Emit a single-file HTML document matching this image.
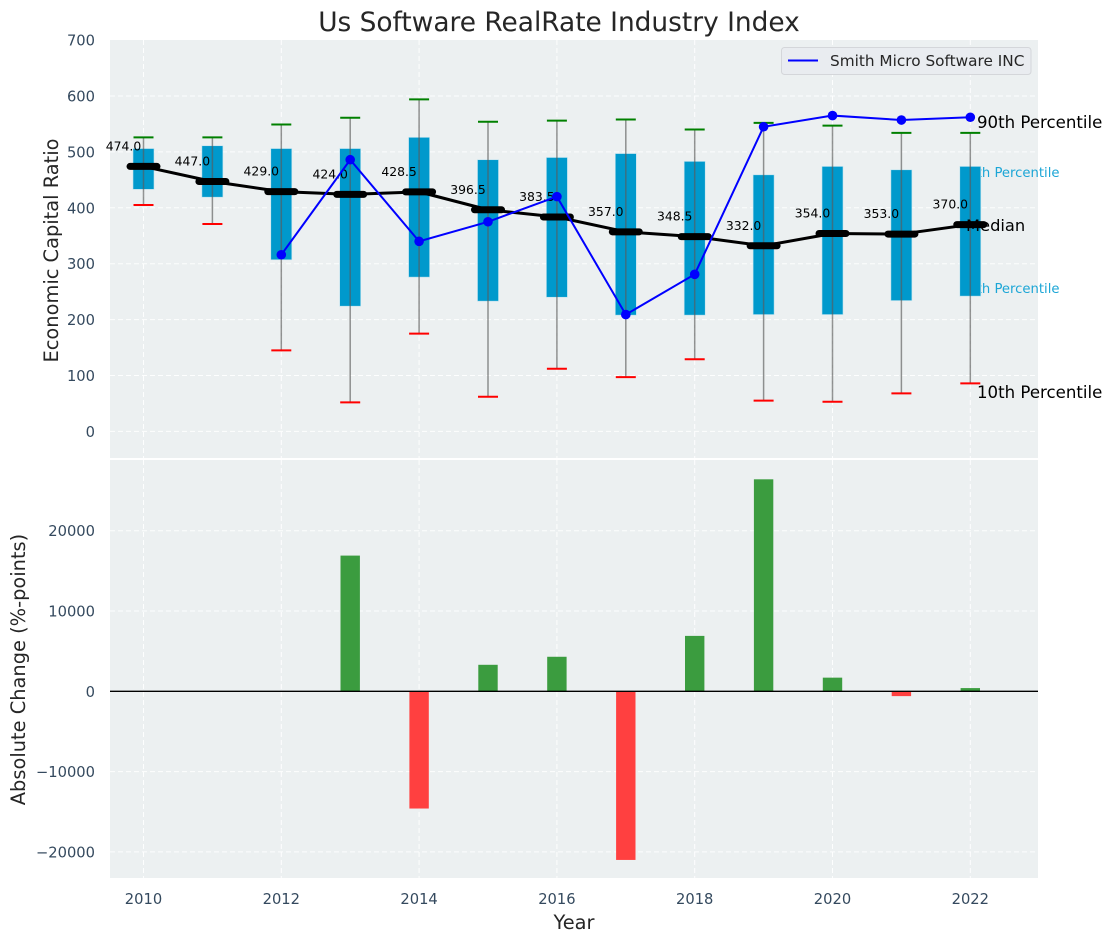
<!DOCTYPE html>
<html>
<head>
<meta charset="utf-8">
<title>Us Software RealRate Industry Index</title>
<style>
html,body{margin:0;padding:0;background:#fff;width:1112px;height:942px;overflow:hidden}
svg{display:block;font-family:"DejaVu Sans","Liberation Sans",sans-serif}
</style>
</head>
<body>
<svg id="chart" width="1112" height="942" viewBox="0 0 1112 942" xmlns="http://www.w3.org/2000/svg">
<rect x="110" y="40" width="928" height="418" fill="#ecf0f1"/>
<rect x="110" y="460" width="928" height="418" fill="#ecf0f1"/>
<g id="grid"></g>
<g id="ticks"></g>
<text x="559" y="31" font-size="26.4" fill="#262626" text-anchor="middle">Us Software RealRate Industry Index</text>
<text transform="translate(58,250.5) rotate(-90)" font-size="19.4" fill="#262626" text-anchor="middle">Economic Capital Ratio</text>
<text transform="translate(25,669.5) rotate(-90)" font-size="19.4" fill="#262626" text-anchor="middle">Absolute Change (%-points)</text>
<text x="574" y="929" font-size="19.4" fill="#262626" text-anchor="middle">Year</text>
<text x="1059.5" y="177" font-size="13.2" fill="#1ca6d6" text-anchor="end">75th Percentile</text>
<text x="1059.5" y="293" font-size="13.2" fill="#1ca6d6" text-anchor="end">25th Percentile</text>
<g id="marks"></g>
<text x="977" y="128" font-size="16.6" fill="#000">90th Percentile</text>
<text x="977" y="398" font-size="16.6" fill="#000">10th Percentile</text>
<text x="966" y="231" font-size="16.3" fill="#000">Median</text>
<g id="bars"></g>
<line x1="110" x2="1038" y1="691.3" y2="691.3" stroke="#000" stroke-width="1.4"/>
<g>
<rect x="781.5" y="47.5" width="249.5" height="27" rx="3" fill="#e9ecf0" stroke="#d4d6da" stroke-width="1"/>
<line x1="788" x2="818" y1="60.5" y2="60.5" stroke="#0000ff" stroke-width="2"/>
<text x="830" y="66" font-size="15.3" fill="#262626">Smith Micro Software INC</text>
</g>
</svg>
<script>
const years = [2010, 2011, 2012, 2013, 2014, 2015, 2016, 2017, 2018, 2019, 2020, 2021, 2022];
const p90 = [526, 526, 549, 561, 594, 554, 556, 558, 540, 552, 547, 534, 534];
const p75 = [506, 511, 506, 506, 526, 486, 490, 497, 483, 459, 474, 468, 474];
const medians = [474, 447, 429, 424, 428.5, 396.5, 383.5, 357, 348.5, 332, 354, 353, 370];
const p25 = [433, 419, 307, 224, 276, 233, 240, 208, 208, 209, 209, 234, 242];
const p10 = [405, 371, 145, 52, 175, 62, 112, 97, 129, 55, 53, 68, 86];
const company = [null, null, 316, 486, 340, 375, 420, 209, 281, 545, 565, 557, 562];
const changes = [null, null, null, 16900, -14600, 3300, 4300, -21000, 6900, 26400, 1700, -600, 400];
const xTickLabels = [2010, 2012, 2014, 2016, 2018, 2020, 2022];
const topTickLabels = [0, 100, 200, 300, 400, 500, 600, 700];
const bottomTickLabels = [-20000, -10000, 0, 10000, 20000];

const NS = 'http://www.w3.org/2000/svg';
function xScale(v) { return 143.5 + (v - 2010) * 68.9; }
function yTop(v) { return 431.4 - v * 0.559; }
function yBottom(v) { return 691.3 - v * 0.00803; }
function make(parent, tag, props) {
  const el = document.createElementNS(NS, tag);
  for (const k in props) el.setAttribute(k, props[k]);
  parent.appendChild(el);
  return el;
}
const grid = document.getElementById('grid');
const ticks = document.getElementById('ticks');
const marks = document.getElementById('marks');
const bars = document.getElementById('bars');
const dash = { stroke: '#ffffff', 'stroke-width': 1, 'stroke-dasharray': '5 3', 'stroke-opacity': 0.9 };

xTickLabels.forEach(function (t) {
  const x = xScale(t);
  [[40, 458], [460, 878]].forEach(function (r) {
    const g = make(grid, 'line', Object.assign({ x1: x, x2: x, y1: r[0], y2: r[1] }, dash));
    
    
  });
  const lab = make(ticks, 'text', { x: x, y: 904, 'font-size': 14.7, fill: '#34495e', 'text-anchor': 'middle' });
  
  
  lab.textContent = t;
});
topTickLabels.forEach(function (t) {
  const y = yTop(t);
  if (t < 700) {
    const g = make(grid, 'line', Object.assign({ x1: 110, x2: 1038, y1: y, y2: y }, dash));
    
    
  }
  const lab = make(ticks, 'text', { x: 95, y: y + 5.5, 'font-size': 14.7, fill: '#34495e', 'text-anchor': 'end' });
  
  
  lab.textContent = t;
});
bottomTickLabels.forEach(function (t) {
  const y = yBottom(t);
  const g = make(grid, 'line', Object.assign({ x1: 110, x2: 1038, y1: y, y2: y }, dash));
  
  
  const lab = make(ticks, 'text', { x: 95, y: y + 5.5, 'font-size': 14.7, fill: '#34495e', 'text-anchor': 'end' });
  
  
  lab.textContent = String(t).replace('-', '\u2212');
});

years.forEach(function (yr, i) {
  const x = xScale(yr);
  const top = yTop(p75[i]);
  const box = make(marks, 'rect', { x: x - 10.5, y: top, width: 21, height: yTop(p25[i]) - top, fill: '#0099cc', stroke: '#bfe3ef', 'stroke-width': 0.6 });
  
  
  const w = make(marks, 'line', { x1: x, x2: x, y1: yTop(p90[i]), y2: yTop(p10[i]), stroke: '#5a5a5a', 'stroke-opacity': 0.65, 'stroke-width': 1.5 });
  
  
  const c1 = make(marks, 'line', { x1: x - 10, x2: x + 10, y1: yTop(p90[i]), y2: yTop(p90[i]), stroke: '#008000', 'stroke-width': 2 });
  
  
  const c2 = make(marks, 'line', { x1: x - 10, x2: x + 10, y1: yTop(p10[i]), y2: yTop(p10[i]), stroke: '#ff0000', 'stroke-width': 2 });
  
  
});

const medianPath = make(marks, 'path', {
  d: medians.map(function (m, i) { return (i ? 'L' : 'M') + xScale(years[i]) + ' ' + yTop(m); }).join(' '),
  fill: 'none', stroke: '#000', 'stroke-width': 3, 'stroke-linejoin': 'round'
});



years.forEach(function (yr, i) {
  const x = xScale(yr);
  const y = yTop(medians[i]);
  const t = make(marks, 'line', { x1: x - 13.5, x2: x + 13.5, y1: y, y2: y, stroke: '#000', 'stroke-width': 7, 'stroke-linecap': 'round' });
  
  
  const lab = make(marks, 'text', { x: x - 20, y: y - 16, 'font-size': 12.4, fill: '#000', 'text-anchor': 'middle' });
  
  
  lab.textContent = medians[i].toFixed(1);
});

const companyPoints = [];
company.forEach(function (v, i) {
  if (v !== null) companyPoints.push([xScale(years[i]), yTop(v)]);
});
const companyLine = make(marks, 'path', {
  d: companyPoints.map(function (p, i) { return (i ? 'L' : 'M') + p[0] + ' ' + p[1]; }).join(' '),
  fill: 'none', stroke: '#0000ff', 'stroke-width': 2
});


companyPoints.forEach(function (p) {
  const dot = make(marks, 'circle', { cx: p[0], cy: p[1], r: 4.8, fill: '#0000ff' });
  
  
});

changes.forEach(function (v, i) {
  if (v === null) return;
  const y0 = yBottom(0);
  const y1 = yBottom(v);
  const b = make(bars, 'rect', { x: xScale(years[i]) - 9.7, y: Math.min(y0, y1), width: 19.4, height: Math.abs(y1 - y0), fill: v >= 0 ? '#3b9c3f' : '#ff4040' });
  
  
});
</script>
</body>
</html>
